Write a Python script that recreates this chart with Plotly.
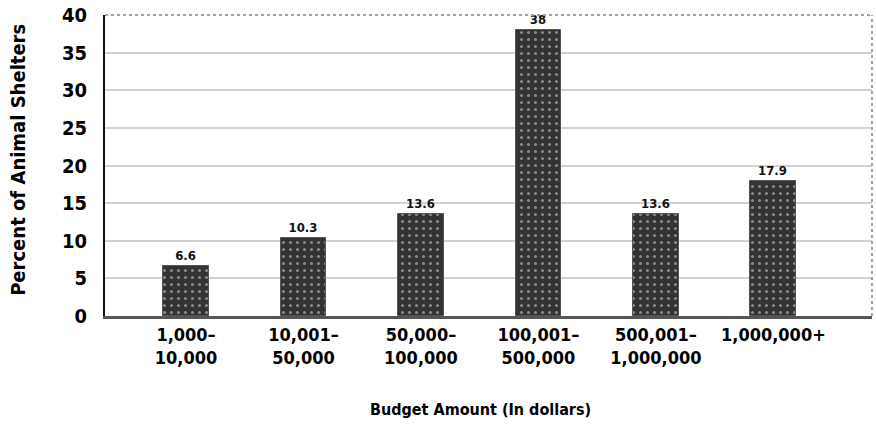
import plotly.graph_objects as go

# Budget ranges and the share of animal shelters in each
categories = ["1,000–<br>10,000", "10,001–<br>50,000", "50,000–<br>100,000",
              "100,001–<br>500,000", "500,001–<br>1,000,000", "1,000,000+"]
percents = [6.6, 10.3, 13.6, 38, 13.6, 17.9]
value_labels = ["6.6", "10.3", "13.6", "38", "13.6", "17.9"]
y_ticks = [0, 5, 10, 15, 20, 25, 30, 35, 40]

FONT = "DejaVu Sans Condensed"
idx = list(range(len(categories)))

fig = go.Figure()
fig.add_trace(go.Bar(
    x=idx,
    y=percents,
    width=0.39,
    marker=dict(
        color="#333333",
        line=dict(color="#555555", width=1),
        pattern=dict(shape=".", bgcolor="#333333", fgcolor="#8a8a8a",
                     size=7, solidity=0.15, fillmode="replace"),
    ),
    text=value_labels,
    textposition="outside",
    cliponaxis=False,
    textfont=dict(family=FONT, size=13, color="#111111", weight="bold"),
    hoverinfo="skip",
))

fig.update_layout(
    width=876, height=425,
    margin=dict(l=105, r=4, t=15, b=109),
    plot_bgcolor="white", paper_bgcolor="white",
    showlegend=False,
    bargap=0,
)

fig.update_xaxes(
    range=[-0.69, 5.84],
    tickvals=idx, ticktext=categories,
    tickfont=dict(family=FONT, size=18, color="#000000", weight="bold"),
    showgrid=False, zeroline=False,
    showline=True, linecolor="#555555", linewidth=3,
    ticks="", ticklabelstandoff=0,
)
fig.update_yaxes(
    range=[0, 40], tickvals=y_ticks,
    tickfont=dict(family=FONT, size=20, color="#000000", weight="bold"),
    showgrid=True, gridcolor="#d2d2d2", gridwidth=2,
    zeroline=False,
    showline=True, linecolor="#111111", linewidth=2,
    ticks="", ticklabelstandoff=12,
)

# Dotted grey frame along the top and right edges of the plot area
fig.add_shape(type="line", xref="paper", yref="paper", x0=0, x1=1, y0=1, y1=1,
              line=dict(color="#a0a0a0", width=2, dash="dot"))
fig.add_shape(type="line", xref="paper", yref="paper", x0=1, x1=1, y0=0, y1=1,
              line=dict(color="#a0a0a0", width=2, dash="dot"))

# Axis titles
fig.add_annotation(text="<b>Percent of Animal Shelters</b>", xref="paper", yref="paper",
                   x=-0.113, y=0.52, xanchor="center", yanchor="middle", textangle=-90,
                   showarrow=False, font=dict(family=FONT, size=20, color="#000000"))
fig.add_annotation(text="<b>Budget Amount (In dollars)</b>", xref="paper", yref="paper",
                   x=0.49, y=-0.31, xanchor="center", yanchor="middle",
                   showarrow=False, font=dict(family=FONT, size=16, color="#000000"))

fig.write_html("out.html")
